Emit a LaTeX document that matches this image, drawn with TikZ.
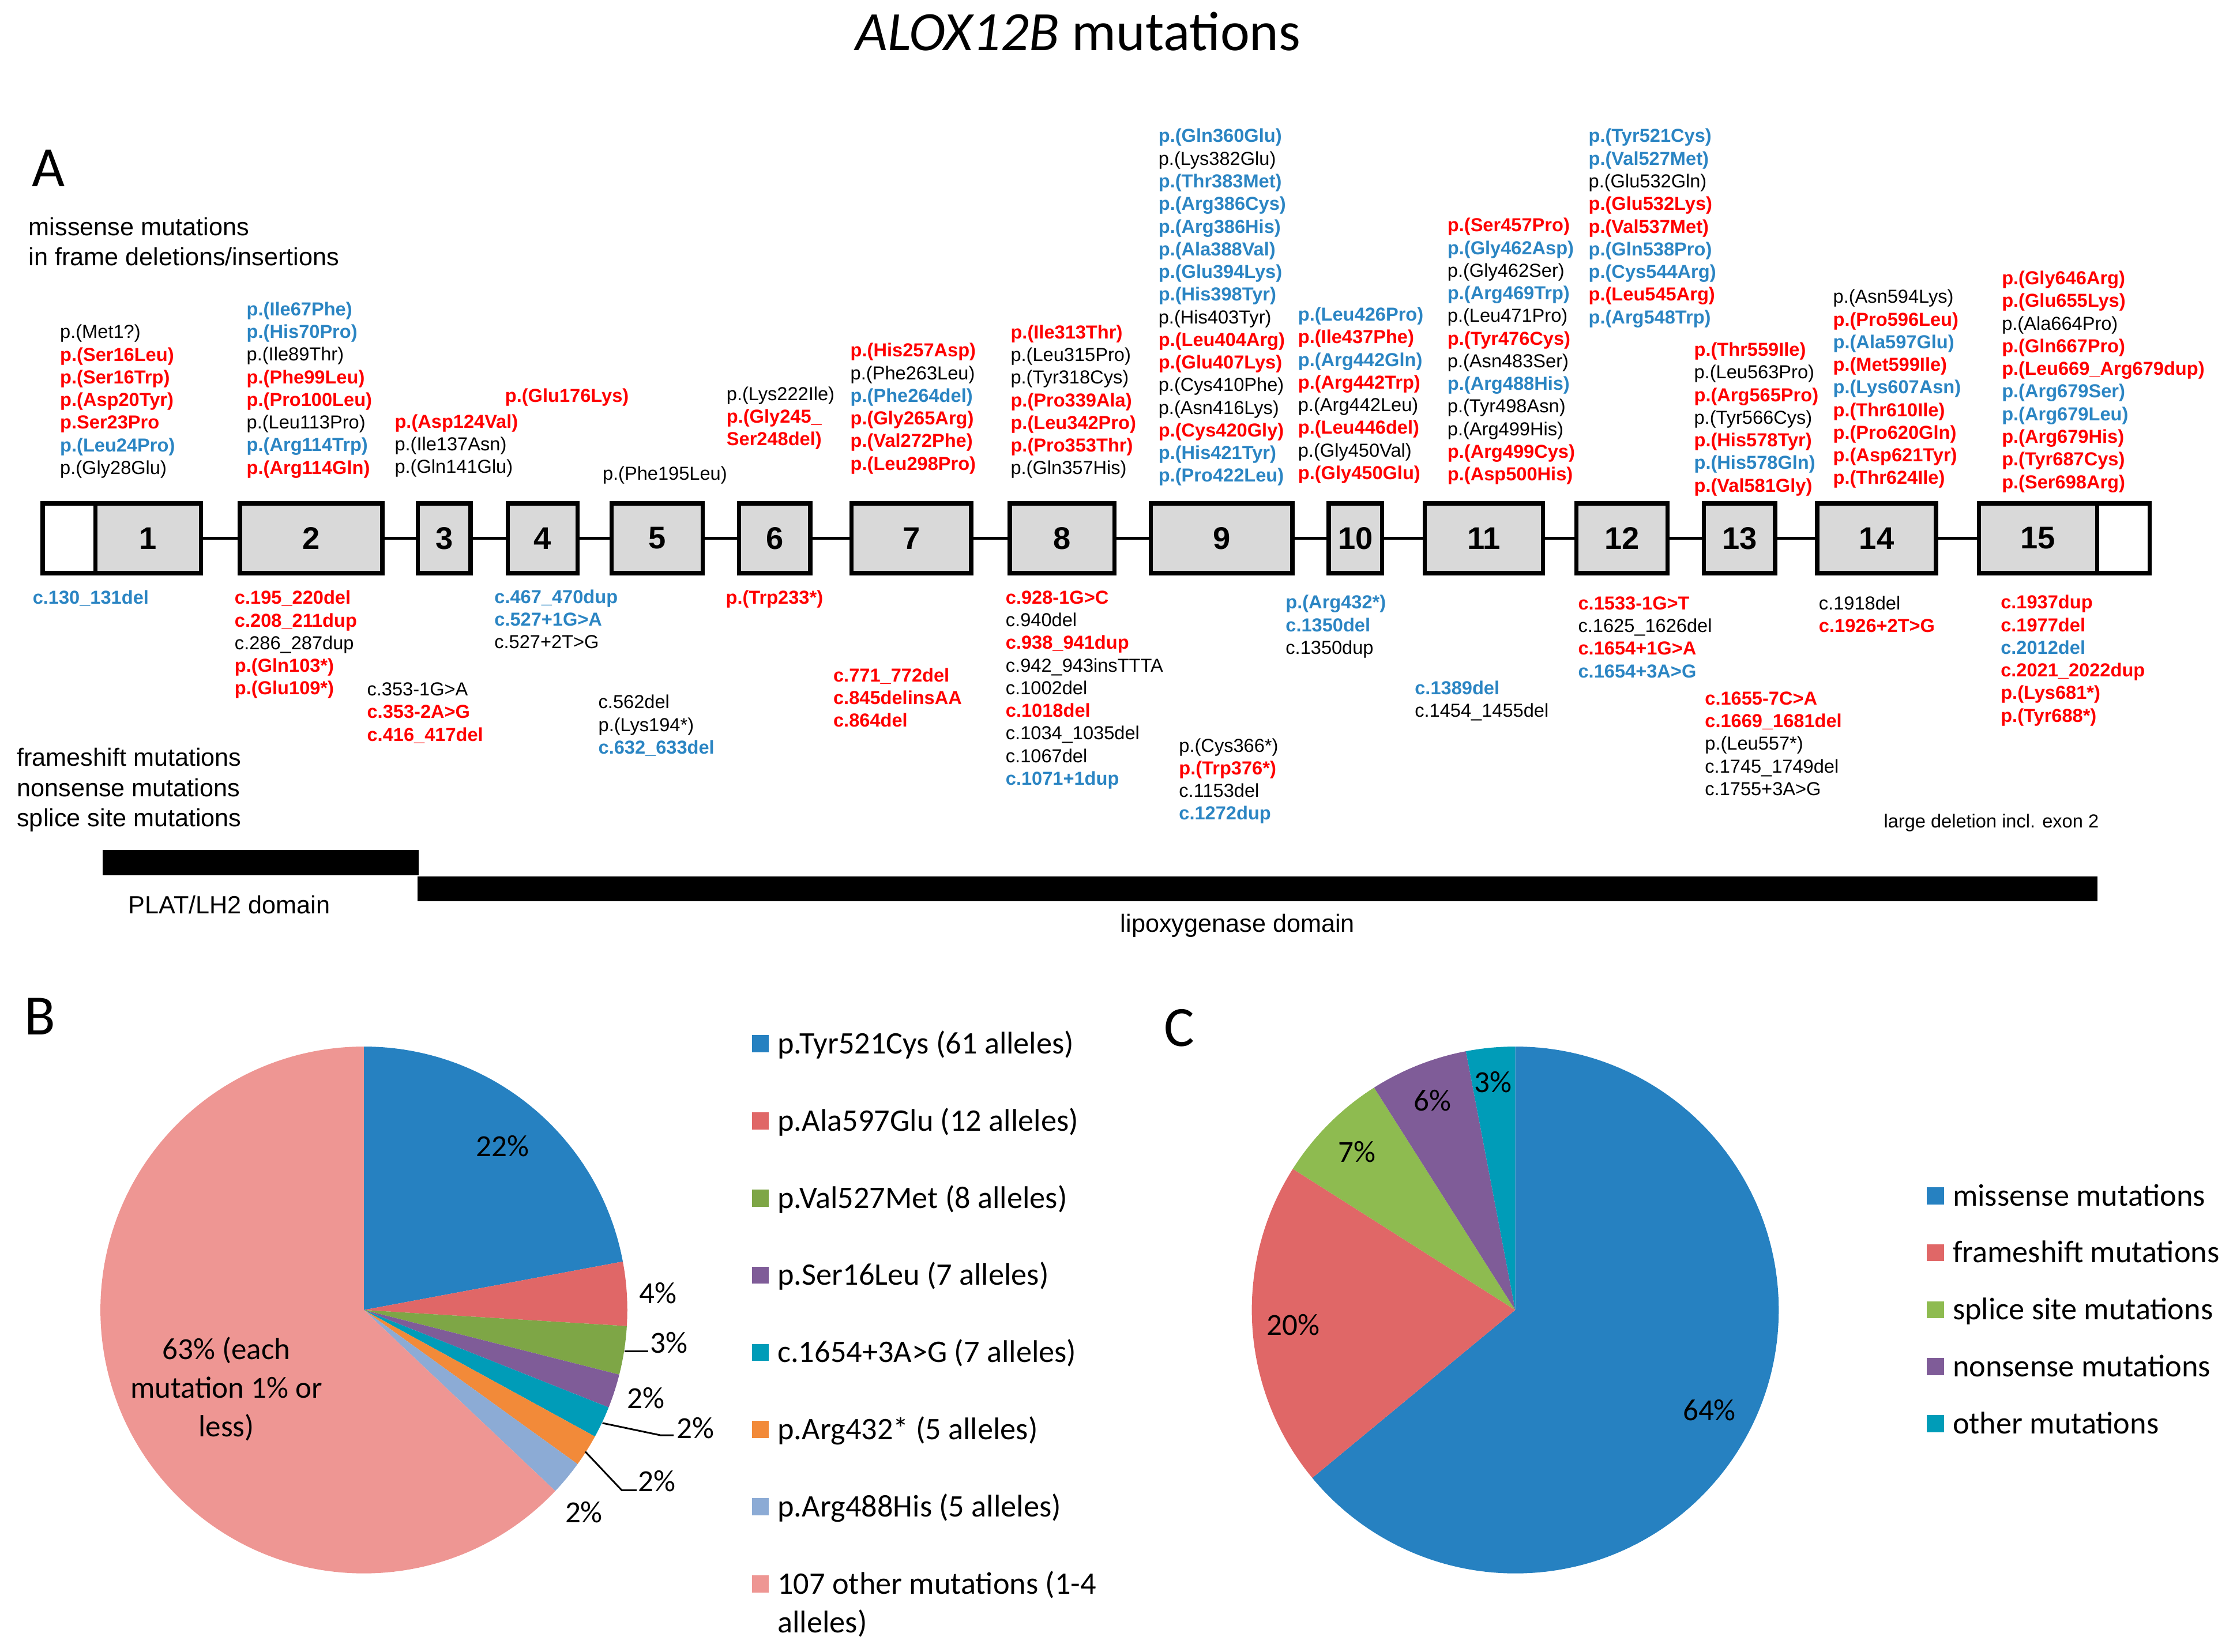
\documentclass[tikz,border=0pt]{standalone}
\usepackage{fontspec}
\setmainfont{Liberation Sans}
\newfontfamily\calfont{Carlito}
\definecolor{mred}{RGB}{255,0,0}
\definecolor{mblue}{RGB}{43,133,195}
\definecolor{exgray}{RGB}{217,217,217}
\definecolor{pblue}{RGB}{38,129,193}
\definecolor{pred}{RGB}{224,103,103}
\definecolor{pgreenB}{RGB}{126,166,70}
\definecolor{pgreenC}{RGB}{142,187,80}
\definecolor{ppurple}{RGB}{127,92,152}
\definecolor{pteal}{RGB}{0,156,184}
\definecolor{porange}{RGB}{242,138,57}
\definecolor{plblue}{RGB}{140,171,213}
\definecolor{ppink}{RGB}{238,150,147}
\newcommand\mR[1]{{\bfseries\color{mred}#1}}
\newcommand\mB[1]{{\bfseries\color{mblue}#1}}
\newcommand\mK[1]{#1}
\newcommand\mcol[4]{\foreach \lab [count=\i from 0] in {#4} {\node[lbl] (#1-\i) at (#2,{#3+15.9*\i}) {\lab};}}
\newcommand\pieslice[3]{\fill[#1] (0,0) -- (#2:185) arc[start angle=#2, end angle=#3, radius=185] -- cycle;}
\tikzset{
 lbl/.style={anchor=west, inner sep=0pt, text height=9.6pt, text depth=2.4pt, font=\fontsize{13.2}{16}\selectfont},
 exon/.style={draw=black, line width=3pt, fill=exgray, minimum height=49pt, inner sep=0pt, font=\bfseries\fontsize{22}{26}\selectfont},
 utr/.style={exon, fill=white},
 intron/.style={line width=2.3pt},
 cat/.style={anchor=west, inner sep=0pt, font=\fontsize{17.5}{21}\selectfont, text height=12.6pt, text depth=3.6pt},
 calt/.style={font=\calfont\fontsize{21.5}{27}\selectfont, inner sep=0pt},
 legt/.style={anchor=west, inner sep=0pt, font=\calfont\fontsize{22}{27}\selectfont, text height=15pt, text depth=1pt},
 legsq/.style={inner sep=0pt, minimum size=12pt},
 panel/.style={font=\calfont\fontsize{40}{44}\selectfont, inner sep=0pt},
 leader/.style={line width=1.2pt},
 bar/.style={fill=black, inner sep=0pt},
}
\begin{document}
\begin{tikzpicture}[x=1pt,y=-1pt]
\useasboundingbox (0,0) rectangle (1568,1160);
\node[font=\calfont\fontsize{39}{44}\selectfont, inner sep=0pt] (title) at (757,22) {\textit{ALOX12B} mutations};
\node[panel] (pA) at (34,118) {A};
\node[panel] (pB) at (28,714) {B};
\node[panel] (pC) at (828,722) {C};
\node[cat] (cat1) at (20,161) {missense mutations};
\node[cat] (cat2) at (20,182) {in frame deletions/insertions};
\node[cat] (cat3) at (11.7,533.5) {frameshift mutations};
\node[cat] (cat4) at (11.7,554.8) {nonsense mutations};
\node[cat] (cat5) at (11.7,576) {splice site mutations};
% exons
\node[utr, minimum width=37pt] (x1u) at (48.5,378) {};
\node[exon, minimum width=74.1pt] (x1) at (104.05,378) {1};
\node[exon, minimum width=100pt] (x2) at (218.5,378) {2};
\node[exon, minimum width=37pt] (x3) at (312,378) {3};
\node[exon, minimum width=49pt] (x4) at (381,378) {4};
\node[exon, minimum width=64pt] (x5) at (461.5,378) {5};
\node[exon, minimum width=50pt] (x6) at (544,378) {6};
\node[exon, minimum width=84pt] (x7) at (640,378) {7};
\node[exon, minimum width=73.5pt] (x8) at (745.75,378) {8};
\node[exon, minimum width=99.5pt] (x9) at (857.75,378) {9};
\node[exon, minimum width=37.5pt] (x10) at (951.75,378) {10};
\node[exon, minimum width=83pt] (x11) at (1042,378) {11};
\node[exon, minimum width=64pt] (x12) at (1139,378) {12};
\node[exon, minimum width=50pt] (x13) at (1221.5,378) {13};
\node[exon, minimum width=83.5pt] (x14) at (1317.75,378) {14};
\node[exon, minimum width=83pt] (x15) at (1431,378) {15};
\node[utr, minimum width=37pt] (x15u) at (1491,378) {};
\foreach \a/\b in {x1/x2,x2/x3,x3/x4,x4/x5,x5/x6,x6/x7,x7/x8,x8/x9,x9/x10,x10/x11,x11/x12,x12/x13,x13/x14,x14/x15}
  \draw[intron] (\a.east) -- (\b.west);
% domains
\node[bar, minimum width=222pt, minimum height=17.8pt] (plat) at (183,605.9) {};
\node[bar, minimum width=1180pt, minimum height=17.4pt] (lipox) at (883,624.3) {};
\node[cat, anchor=center] (platl) at (161,637) {PLAT/LH2 domain};
\node[cat, anchor=center] (lipoxl) at (869,650) {lipoxygenase domain};
% labels above exons
\mcol{t1}{42}{234}{\mK{p.(Met1?)},\mR{p.(Ser16Leu)},\mR{p.(Ser16Trp)},\mR{p.(Asp20Tyr)},\mR{p.Ser23Pro},\mB{p.(Leu24Pro)},\mK{p.(Gly28Glu)}}
\mcol{t2}{173}{218}{\mB{p.(Ile67Phe)},\mB{p.(His70Pro)},\mK{p.(Ile89Thr)},\mR{p.(Phe99Leu)},\mR{p.(Pro100Leu)},\mK{p.(Leu113Pro)},\mB{p.(Arg114Trp)},\mR{p.(Arg114Gln)}}
\mcol{t3}{277}{297}{\mR{p.(Asp124Val)},\mK{p.(Ile137Asn)},\mK{p.(Gln141Glu)}}
\mcol{t4}{354.5}{278.8}{\mR{p.(Glu176Lys)}}
\mcol{t5}{423}{333.5}{\mK{p.(Phe195Leu)}}
\mcol{t6}{510}{277.5}{\mK{p.(Lys222Ile)},\mR{p.(Gly245\_},\mR{Ser248del)}}
\mcol{t7}{597}{247}{\mR{p.(His257Asp)},\mK{p.(Phe263Leu)},\mB{p.(Phe264del)},\mR{p.(Gly265Arg)},\mR{p.(Val272Phe)},\mR{p.(Leu298Pro)}}
\mcol{t8}{709.5}{234.2}{\mR{p.(Ile313Thr)},\mK{p.(Leu315Pro)},\mK{p.(Tyr318Cys)},\mR{p.(Pro339Ala)},\mR{p.(Leu342Pro)},\mR{p.(Pro353Thr)},\mK{p.(Gln357His)}}
\mcol{t9}{813.3}{96.4}{\mB{p.(Gln360Glu)},\mK{p.(Lys382Glu)},\mB{p.(Thr383Met)},\mB{p.(Arg386Cys)},\mB{p.(Arg386His)},\mB{p.(Ala388Val)},\mB{p.(Glu394Lys)},\mB{p.(His398Tyr)},\mK{p.(His403Tyr)},\mR{p.(Leu404Arg)},\mR{p.(Glu407Lys)},\mK{p.(Cys410Phe)},\mK{p.(Asn416Lys)},\mR{p.(Cys420Gly)},\mB{p.(His421Tyr)},\mB{p.(Pro422Leu)}}
\mcol{t10}{911.3}{221.8}{\mB{p.(Leu426Pro)},\mR{p.(Ile437Phe)},\mB{p.(Arg442Gln)},\mR{p.(Arg442Trp)},\mK{p.(Arg442Leu)},\mR{p.(Leu446del)},\mK{p.(Gly450Val)},\mR{p.(Gly450Glu)}}
\mcol{t11}{1016.2}{159.1}{\mR{p.(Ser457Pro)},\mB{p.(Gly462Asp)},\mK{p.(Gly462Ser)},\mB{p.(Arg469Trp)},\mK{p.(Leu471Pro)},\mR{p.(Tyr476Cys)},\mK{p.(Asn483Ser)},\mB{p.(Arg488His)},\mK{p.(Tyr498Asn)},\mK{p.(Arg499His)},\mR{p.(Arg499Cys)},\mR{p.(Asp500His)}}
\mcol{t12}{1115.3}{96.4}{\mB{p.(Tyr521Cys)},\mB{p.(Val527Met)},\mK{p.(Glu532Gln)},\mR{p.(Glu532Lys)},\mR{p.(Val537Met)},\mB{p.(Gln538Pro)},\mB{p.(Cys544Arg)},\mR{p.(Leu545Arg)},\mB{p.(Arg548Trp)}}
\mcol{t13}{1189.4}{246.5}{\mR{p.(Thr559Ile)},\mK{p.(Leu563Pro)},\mR{p.(Arg565Pro)},\mK{p.(Tyr566Cys)},\mR{p.(His578Tyr)},\mB{p.(His578Gln)},\mR{p.(Val581Gly)}}
\mcol{t14}{1287}{209.3}{\mK{p.(Asn594Lys)},\mR{p.(Pro596Leu)},\mB{p.(Ala597Glu)},\mR{p.(Met599Ile)},\mB{p.(Lys607Asn)},\mR{p.(Thr610Ile)},\mR{p.(Pro620Gln)},\mR{p.(Asp621Tyr)},\mR{p.(Thr624Ile)}}
\mcol{t15}{1405.5}{196.3}{\mR{p.(Gly646Arg)},\mR{p.(Glu655Lys)},\mK{p.(Ala664Pro)},\mR{p.(Gln667Pro)},\mR{p.(Leu669\_Arg679dup)},\mB{p.(Arg679Ser)},\mB{p.(Arg679Leu)},\mR{p.(Arg679His)},\mR{p.(Tyr687Cys)},\mR{p.(Ser698Arg)}}
% labels below exons
\mcol{b1}{22.8}{420.7}{\mB{c.130\_131del}}
\mcol{b2}{164.6}{420.7}{\mR{c.195\_220del},\mR{c.208\_211dup},\mK{c.286\_287dup},\mR{p.(Gln103*)},\mR{p.(Glu109*)}}
\mcol{b3}{257.6}{485}{\mK{c.353-1G>A},\mR{c.353-2A>G},\mR{c.416\_417del}}
\mcol{b4}{347}{420}{\mB{c.467\_470dup},\mB{c.527+1G>A},\mK{c.527+2T>G}}
\mcol{b5}{420}{494}{\mK{c.562del},\mK{p.(Lys194*)},\mB{c.632\_633del}}
\mcol{b6}{509.5}{420.5}{\mR{p.(Trp233*)}}
\mcol{b7}{585}{475.2}{\mR{c.771\_772del},\mR{c.845delinsAA},\mR{c.864del}}
\mcol{b8}{706}{420.5}{\mR{c.928-1G>C},\mK{c.940del},\mR{c.938\_941dup},\mK{c.942\_943insTTTA},\mK{c.1002del},\mR{c.1018del},\mK{c.1034\_1035del},\mK{c.1067del},\mB{c.1071+1dup}}
\mcol{b9}{827.7}{524.5}{\mK{p.(Cys366*)},\mR{p.(Trp376*)},\mK{c.1153del},\mB{c.1272dup}}
\mcol{b10}{902.6}{424}{\mB{p.(Arg432*)},\mB{c.1350del},\mK{c.1350dup}}
\mcol{b11}{993.3}{484}{\mB{c.1389del},\mK{c.1454\_1455del}}
\mcol{b12}{1108}{424.6}{\mR{c.1533-1G>T},\mK{c.1625\_1626del},\mR{c.1654+1G>A},\mB{c.1654+3A>G}}
\mcol{b13}{1197}{491.4}{\mR{c.1655-7C>A},\mR{c.1669\_1681del},\mK{p.(Leu557*)},\mK{c.1745\_1749del},\mK{c.1755+3A>G}}
\mcol{b14}{1277}{424.6}{\mK{c.1918del},\mR{c.1926+2T>G}}
\mcol{b15}{1404.7}{424}{\mR{c.1937dup},\mR{c.1977del},\mB{c.2012del},\mR{c.2021\_2022dup},\mR{p.(Lys681*)},\mR{p.(Tyr688*)}}
\node[lbl] (bigdel) at (1322.6,577.8) {large deletion incl. exon 2};
% pie B
\begin{scope}[shift={(255.5,920)}, y=1pt]
\pieslice{pblue}{90}{10.6}
\pieslice{pred}{10.6}{-3.5}
\pieslice{pgreenB}{-3.5}{-14.2}
\pieslice{ppurple}{-14.2}{-21.7}
\pieslice{pteal}{-21.7}{-28.7}
\pieslice{porange}{-28.7}{-35.8}
\pieslice{plblue}{-35.8}{-43.4}
\pieslice{ppink}{-43.4}{-270}
\end{scope}
\node[calt] (b22) at (352.8,804.8) {22\%};
\node[calt] (b4p) at (462,908) {4\%};
\node[calt] (b3p) at (469.8,943) {3\%};
\node[calt] (b2a) at (453.5,982) {2\%};
\node[calt] (b2b) at (488.3,1003) {2\%};
\node[calt] (b2c) at (461.4,1040.3) {2\%};
\node[calt] (b2d) at (410,1062) {2\%};
\node[calt, align=center] (b63) at (159,975.5) {63\% (each\\mutation 1\% or\\less)};
\coordinate (l1a) at (438.6,949);
\coordinate (l1b) at (455,949);
\draw[leader] (l1a) -- (l1b);
\coordinate (l2a) at (423,999.4);
\coordinate (l2m) at (464,1008);
\coordinate (l2b) at (473,1008);
\draw[leader] (l2a) -- (l2m) -- (l2b);
\coordinate (l3a) at (411,1019.5);
\coordinate (l3m) at (436.6,1046.6);
\coordinate (l3b) at (447,1046.6);
\draw[leader] (l3a) -- (l3m) -- (l3b);
% legend B
\node[legsq, fill=pblue] (sB1) at (534,733) {};
\node[legt] (lB1) at (545.8,733) {p.Tyr521Cys (61 alleles)};
\node[legsq, fill=pred] (sB2) at (534,787.2) {};
\node[legt] (lB2) at (545.8,787.2) {p.Ala597Glu (12 alleles)};
\node[legsq, fill=pgreenB] (sB3) at (534,841.4) {};
\node[legt] (lB3) at (545.8,841.4) {p.Val527Met (8 alleles)};
\node[legsq, fill=ppurple] (sB4) at (534,895.6) {};
\node[legt] (lB4) at (545.8,895.6) {p.Ser16Leu (7 alleles)};
\node[legsq, fill=pteal] (sB5) at (534,949.8) {};
\node[legt] (lB5) at (545.8,949.8) {c.1654+3A>G (7 alleles)};
\node[legsq, fill=porange] (sB6) at (534,1004) {};
\node[legt] (lB6) at (545.8,1004) {p.Arg432* (5 alleles)};
\node[legsq, fill=plblue] (sB7) at (534,1058.2) {};
\node[legt] (lB7) at (545.8,1058.2) {p.Arg488His (5 alleles)};
\node[legsq, fill=ppink] (sB8) at (534,1112.4) {};
\node[legt] (lB8) at (545.8,1112.4) {107 other mutations (1-4};
\node[legt] (lB8b) at (545.8,1139.5) {alleles)};
% pie C
\begin{scope}[shift={(1064,920)}, y=1pt]
\pieslice{pblue}{90}{-140.4}
\pieslice{pred}{-140.4}{-212.4}
\pieslice{pgreenC}{-212.4}{-237.6}
\pieslice{ppurple}{-237.6}{-259.2}
\pieslice{pteal}{-259.2}{-270}
\end{scope}
\node[calt] (c3p) at (1048.4,760) {3\%};
\node[calt] (c6p) at (1006,772.7) {6\%};
\node[calt] (c7p) at (952.7,809) {7\%};
\node[calt] (c20p) at (908.2,930.5) {20\%};
\node[calt] (c64p) at (1200.3,990.4) {64\%};
% legend C
\node[legsq, fill=pblue] (sC1) at (1359,839.8) {};
\node[legt] (lC1) at (1371,839.8) {missense mutations};
\node[legsq, fill=pred] (sC2) at (1359,879.8) {};
\node[legt] (lC2) at (1371,879.8) {frameshift mutations};
\node[legsq, fill=pgreenC] (sC3) at (1359,919.8) {};
\node[legt] (lC3) at (1371,919.8) {splice site mutations};
\node[legsq, fill=ppurple] (sC4) at (1359,959.8) {};
\node[legt] (lC4) at (1371,959.8) {nonsense mutations};
\node[legsq, fill=pteal] (sC5) at (1359,999.8) {};
\node[legt] (lC5) at (1371,999.8) {other mutations};
\end{tikzpicture}
\end{document}
